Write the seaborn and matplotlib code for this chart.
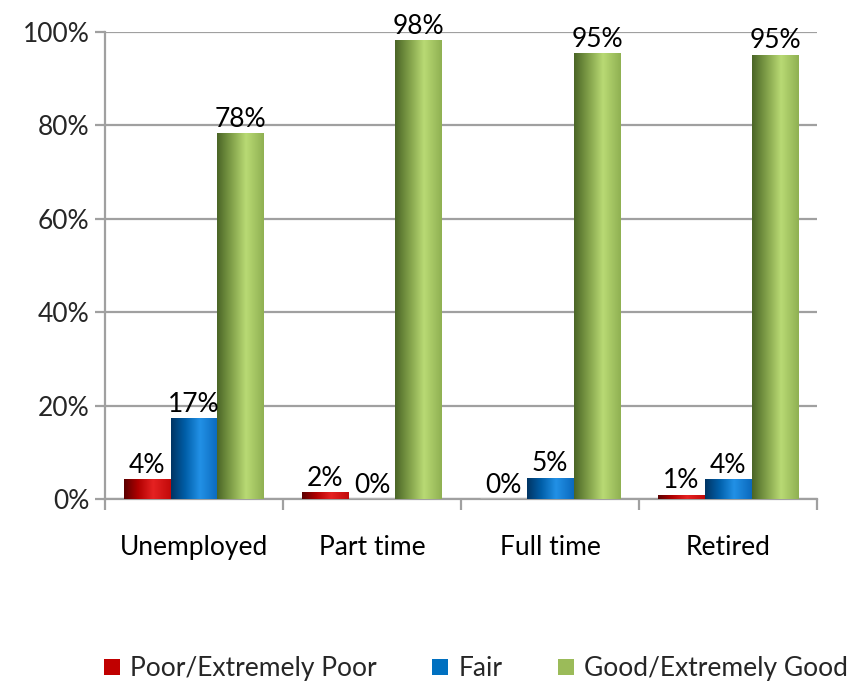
import matplotlib
matplotlib.use("Agg")
import matplotlib.pyplot as plt
import numpy as np
import pandas as pd
import seaborn as sns
from matplotlib.colors import LinearSegmentedColormap
from matplotlib.patches import Patch

# ── Data ────────────────────────────
categories = ["Unemployed", "Part time", "Full time", "Retired"]
series = ["Poor/Extremely Poor", "Fair", "Good/Extremely Good"]
poor = [4.3, 1.5, 0.0, 0.9]
fair = [17.3, 0.0, 4.6, 4.3]
good = [78.3, 98.3, 95.4, 95.1]
yticks = [0, 20, 40, 60, 80, 100]

df = pd.DataFrame({
    "Employment": categories * 3,
    "Rating": [s for s in series for _ in categories],
    "Percent": poor + fair + good,
})

BASE = {"Poor/Extremely Poor": "#c00000", "Fair": "#0070c0", "Good/Extremely Good": "#9bbb59"}
GRAD = {
    "Poor/Extremely Poor": ["#5a0000", "#b00000", "#e52222", "#c20a0a"],
    "Fair": ["#003463", "#005ea8", "#2291e6", "#0b69bd"],
    "Good/Extremely Good": ["#4a6526", "#7f9e48", "#b9da74", "#8fb052"],
}
FS = 19

sns.set_theme(style="white")
plt.rcParams["font.family"] = ["Lato", "DejaVu Sans"]

fig = plt.figure(figsize=(8.53, 6.86), dpi=100)
ax = fig.add_axes([0.123, 0.2726, 0.835, 0.6808])

sns.barplot(data=df, x="Employment", y="Percent", hue="Rating", order=categories,
            hue_order=series, palette=BASE, width=0.79, saturation=1, ax=ax,
            legend=False, zorder=3)

# gradient fill, clipped to each bar
grad = np.linspace(0, 1, 256).reshape(1, -1)
for cont, name in zip(ax.containers, series):
    cmap = LinearSegmentedColormap.from_list(
        name, list(zip([0.0, 0.3, 0.62, 1.0], GRAD[name])))
    for bar, val in zip(cont, df.loc[df["Rating"] == name, "Percent"]):
        x, w, h = bar.get_x(), bar.get_width(), bar.get_height()
        if h > 0:
            bar.set_facecolor("none")
            bar.set_edgecolor("none")
            im = ax.imshow(grad, cmap=cmap, aspect="auto",
                           extent=[x, x + w, 0, h], zorder=3)
            im.set_clip_path(bar)
        ax.text(x + w / 2, h + 0.3, f"{val:.0f}%", ha="center", va="bottom",
                fontsize=FS, color="black", zorder=4)

ax.set_xlim(-0.5, 3.5)
ax.set_ylim(0, 100)

# grid and axes
ax.set_yticks(yticks)
ax.set_yticklabels([f"{t}%" for t in yticks], fontsize=FS)
ax.yaxis.grid(True, color="#a0a0a0", lw=1.6, zorder=0)
ax.set_axisbelow(True)
for side in ["top", "right"]:
    ax.spines[side].set_visible(False)
for side in ["left", "bottom"]:
    ax.spines[side].set_color("#a0a0a0")
    ax.spines[side].set_linewidth(1.6)

ax.set_xticks(range(len(categories)))
ax.set_xticklabels(categories, fontsize=FS)
ax.set_xticks(np.arange(-0.5, len(categories)), minor=True)
ax.tick_params(axis="x", which="major", length=0, pad=26, colors="black")
ax.tick_params(axis="x", which="minor", length=8, width=1.6, color="#a0a0a0", bottom=True)
ax.tick_params(axis="y", length=7, width=1.6, color="#a0a0a0", left=True, pad=4)
ax.set_xlabel("")
ax.set_ylabel("")

handles = [Patch(facecolor=BASE[s], edgecolor="none") for s in series]
fig.legend(handles, series, loc="center", bbox_to_anchor=(0.558, 0.025), ncol=3,
           frameon=False, fontsize=FS, handlelength=0.6, handleheight=0.6,
           handletextpad=0.4, columnspacing=2.1)

fig.savefig("out.png", dpi=100)
